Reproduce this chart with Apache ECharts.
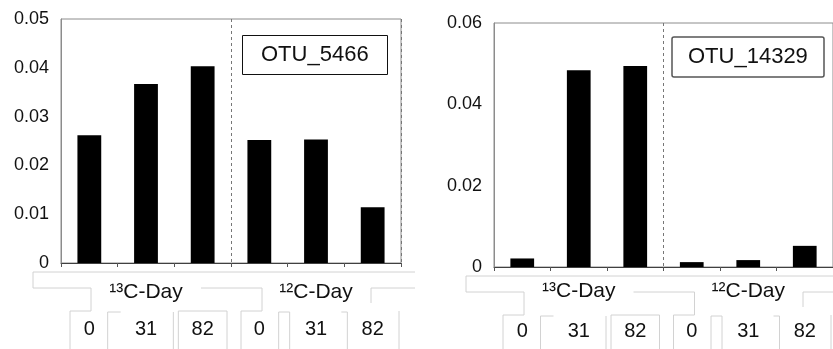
<!DOCTYPE html>
<html>
<head>
<meta charset="utf-8">
<script src="https://cdn.jsdelivr.net/npm/echarts@6/dist/echarts.min.js"></script>
<style>
  html, body { margin: 0; padding: 0; background: #fff; }
  #chart { width: 833px; height: 349px; }
</style>
</head>
<body>
<div id="chart"></div>
<script>
// categories
const days = ['0', '31', '82', '0', '31', '82']
const groups = ['\u00b9\u00b3C-Day', '\u00b9\u00b2C-Day']

// relative abundance
const otu5466 = [0.0262, 0.0367, 0.0403, 0.0252, 0.0253, 0.0114]
const otu14329 = [0.0021, 0.0484, 0.0494, 0.0012, 0.0017, 0.0052]

const font = 'Liberation Sans, Arial, sans-serif'
const chart = echarts.init(document.getElementById('chart'))

const yLabel = v => (v === 0 ? '0' : v.toFixed(2))

const makeY = (gridIndex, max, interval) => ({
  type: 'value',
  gridIndex,
  min: 0,
  max,
  interval,
  axisLine: { show: true, lineStyle: { color: '#8c8c8c' } },
  axisTick: { show: false },
  splitLine: { show: false },
  axisLabel: { formatter: yLabel, fontSize: 18, color: '#111', fontFamily: font, margin: 12 }
})

const makeDayAxis = (gridIndex, margin) => ({
  type: 'category',
  gridIndex,
  data: days,
  position: 'bottom',
  axisLine: { show: true, lineStyle: { color: '#404040' } },
  axisTick: { show: true, interval: 0, length: 4, lineStyle: { color: '#555' } },
  axisLabel: { interval: 0, fontSize: 20, color: '#111', fontFamily: font, margin }
})

const makeGroupAxis = (gridIndex, margin) => ({
  type: 'category',
  gridIndex,
  data: groups,
  position: 'bottom',
  axisLine: { show: false },
  axisTick: { show: false },
  splitLine: { show: true, lineStyle: { color: '#777', type: [3, 3], width: 1 } },
  axisLabel: { interval: 0, fontSize: 21, color: '#111', fontFamily: font, margin }
})

const makeBar = (idx, data) => ({
  type: 'bar',
  xAxisIndex: idx * 2,
  yAxisIndex: idx,
  data,
  barWidth: '42%',
  itemStyle: { color: '#000' },
  silent: true
})

chart.setOption({
  animation: false,
  title: [
    {
      text: 'OTU_5466', left: 242, top: 35,
      padding: [9, 19, 9, 19],
      borderColor: '#111', borderWidth: 1,
      textStyle: { fontSize: 22, fontWeight: 'normal', color: '#111', fontFamily: font }
    },
    {
      text: 'OTU_14329', left: 672, top: 37,
      padding: [9, 16, 9, 16],
      borderColor: '#555', borderWidth: 1.5, borderRadius: 2,
      textStyle: { fontSize: 22, fontWeight: 'normal', color: '#111', fontFamily: font }
    }
  ],
  grid: [
    { left: 61, top: 19, width: 340, height: 244, show: true, borderColor: '#8c8c8c', borderWidth: 1 },
    { left: 494, top: 23, width: 342, height: 244, show: true, borderColor: '#8c8c8c', borderWidth: 1 }
  ],
  xAxis: [
    makeDayAxis(0, 56),
    makeGroupAxis(0, 19),
    makeDayAxis(1, 54),
    makeGroupAxis(1, 14)
  ],
  yAxis: [makeY(0, 0.05, 0.01), makeY(1, 0.06, 0.02)],
  series: [makeBar(0, otu5466), makeBar(1, otu14329)]
})

// light grey table lines under the axis, placed from the axis scale
const deco = (axisIndex, y) => {
  const c0 = chart.convertToPixel({ xAxisIndex: axisIndex }, 0)
  const c1 = chart.convertToPixel({ xAxisIndex: axisIndex }, 1)
  const w = c1 - c0
  const b = [0, 1, 2, 3, 4, 5, 6].map(i => c0 - w / 2 + i * w)
  const H = 349
  const lines = [
    [[b[0] - 28, y + 9], [b[6] + 14, y + 9]],
    [[b[0] - 28, y + 9], [b[0] - 28, y + 25], [b[0] + 30, y + 25], [b[0] + 30, y + 48], [b[0] + 9, y + 48], [b[0] + 9, H]],
    [[b[1] - 10, H], [b[1] - 10, y + 49], [b[1] + 3, y + 49]],
    [[b[2] - 1, H], [b[2] - 1, y + 49]],
    [[b[2] + 4, H], [b[2] + 4, y + 48], [b[3] - 4, y + 48], [b[3] - 4, H]],
    [[b[3] - 30, y + 25], [b[3] + 31, y + 25], [b[3] + 31, y + 48], [b[3] + 10, y + 48], [b[3] + 10, H]],
    [[b[4] - 9, H], [b[4] - 9, y + 49], [b[4] + 2, y + 49], [b[4] + 2, H]],
    [[b[5] - 3, y + 49], [b[5] + 3, y + 49], [b[5] + 3, H]],
    [[b[6] + 14, y + 25], [b[6] - 30, y + 25], [b[6] - 30, y + 40]],
    [[b[6] - 2, y + 48], [b[6] - 2, H]]
  ]
  return lines.map(points => ({
    type: 'polyline',
    silent: true,
    z: -1,
    shape: { points },
    style: { stroke: '#d2d2d2', lineWidth: 1, fill: null }
  }))
}

chart.setOption({
  graphic: [...deco(0, 263), ...deco(2, 267)]
})
</script>
</body>
</html>
